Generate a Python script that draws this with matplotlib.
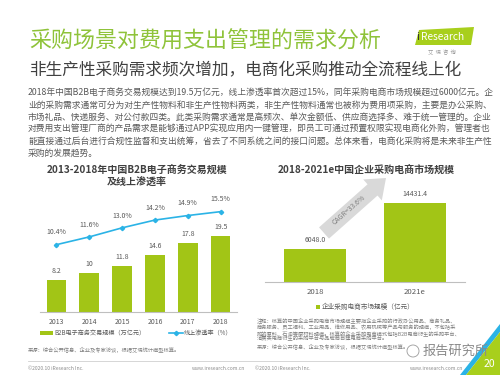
import matplotlib.pyplot as plt
from matplotlib.patches import Polygon, FancyArrow, Rectangle
from matplotlib.lines import Line2D

plt.rcParams['font.family'] = ['Noto Sans CJK SC', 'DejaVu Sans']

# data
years = ['2013', '2014', '2015', '2016', '2017', '2018']
b2b_scale = [8.2, 10, 11.8, 14.6, 17.8, 19.5]          # 万亿元
online_rate = [10.4, 11.6, 13.0, 14.2, 14.9, 15.5]     # %
mkt_years = ['2018', '2021e']
mkt_scale = [6048.0, 14431.4]                          # 亿元
cagr_label = 'CAGR=33.6%'

title = '采购场景对费用支出管理的需求分析'
subtitle = '非生产性采购需求频次增加，电商化采购推动全流程线上化'
para = [
    '2018年中国B2B电子商务交易规模达到19.5万亿元，线上渗透率首次超过15%，同年采购电商市场规模超过6000亿元。企',
    '业的采购需求通常可分为对生产性物料和非生产性物料两类，非生产性物料通常也被称为费用项采购，主要是办公采购、',
    '市场礼品、快递服务、对公付款四类。此类采购需求通常是高频次、单次金额低、供应商选择多、难于统一管理的。企业',
    '对费用支出管理厂商的产品需求是能够通过APP实现应用内一键管理，即员工可通过预置权限实现电商化外购，管理者也',
    '能直接通过后台进行合规性监督和支出统筹，省去了不同系统之间的接口问题。总体来看，电商化采购将是未来非生产性',
    '采购的发展趋势。',
]
notes = [
    '注释：核算的中国企业采购电商市场规模主要指企业采购的行政办公用品、商务礼品、',
    '商务服务、员工福利、工业用品、维修用品、农用机械等产品与服务的规模，不包括采',
    '购的原料、石油等原材料规模。核算的企业采购电商模式包括B2B电商衍生的采购平台、',
    '消费类电商衍生的采购平台与品牌商自建电商采购平台。',
    '来源：综合公开信息、企业及专家访谈，根据艾瑞统计模型核算。',
]
source = '来源：综合公开信息、企业及专家访谈，根据艾瑞统计模型核算。'

GREEN = '#a2c516'
TGREEN = '#8fc33a'
BLUE = '#2bb3e6'
GRAY = '#595959'

fig = plt.figure(figsize=(5, 3.75), dpi=100)

# background axes in pixel coordinates for the slide decoration
bg = fig.add_axes([0, 0, 1, 1], zorder=0)
bg.set_xlim(0, 500)
bg.set_ylim(375, 0)
bg.axis('off')

bg.text(29, 42, title, color=TGREEN, fontsize=15.8, va='center', ha='left')
bg.text(29, 71, subtitle, color='#404040', fontsize=12, va='center', ha='left')
for i, line in enumerate(para):
    bg.text(28, 93 + i * 12, line, color=GRAY, fontsize=6.3, va='center', ha='left')

# logo
bg.add_patch(Polygon([(419, 30), (474, 27), (471, 45), (415, 45)], closed=True,
                     color='#a8cf1c', lw=0))
bg.text(416.5, 37, 'i', color='#333333', fontsize=8, va='center', ha='left')
bg.text(420.5, 37, 'Research', color='white', fontsize=7.3, va='center', ha='left')
bg.text(442, 52, '艾  瑞  咨  询', color='#999999', fontsize=3.8, va='center', ha='center')

# chart titles
bg.text(137, 170, '2013-2018年中国B2B电子商务交易规模', fontsize=7.2, fontweight='bold',
        color='#404040', ha='center', va='center')
bg.text(137, 183, '及线上渗透率', fontsize=7.2, fontweight='bold',
        color='#404040', ha='center', va='center')
bg.text(366, 170, '2018-2021e中国企业采购电商市场规模', fontsize=7.2, fontweight='bold',
        color='#404040', ha='center', va='center')

# left legend
bg.add_patch(Rectangle((40, 331), 13, 4, color=GREEN, lw=0))
bg.text(54, 333, 'B2B电子商务交易规模（万亿元）', fontsize=4.4, color=GRAY, va='center')
bg.add_line(Line2D([169, 183], [333, 333], color=BLUE, lw=1.2))
bg.plot([176], [333], marker='D', ms=2.2, color=BLUE)
bg.text(183.5, 333, '线上渗透率（%）', fontsize=4.4, color=GRAY, va='center')
bg.text(28, 350, source, fontsize=3.8, color='#7f7f7f', va='center')

# right legend + notes
bg.add_patch(Rectangle((316, 305), 4, 4, color=GREEN, lw=0))
bg.text(322, 307, '企业采购电商市场规模（亿元）', fontsize=4.8, color=GRAY, va='center')
for yy, line in zip([320, 327, 333, 339, 346], notes):
    bg.text(257, yy, line, fontsize=3.75, color='#7f7f7f', va='center')

# footer
bg.add_line(Line2D([28, 470], [361, 361], color='#d0d0d0', lw=0.6))
bg.text(28, 368, '©2020.10 iResearch Inc.', fontsize=3.6, color='#8c8c8c', va='center')
bg.text(245, 368, 'www.iresearch.com.cn', fontsize=3.6, color='#8c8c8c', va='center', ha='right')
bg.text(255, 368, '©2020.10 iResearch Inc.', fontsize=3.6, color='#8c8c8c', va='center')
bg.text(463, 368, 'www.iresearch.com.cn', fontsize=3.6, color='#8c8c8c', va='center', ha='right')

# corner decoration
bg.add_patch(Polygon([(460, 375), (500, 324), (500, 332), (466, 375)], closed=True,
                     color=BLUE, lw=0))
bg.add_patch(Polygon([(466, 375), (500, 375), (500, 332)], closed=True, color='#a8cf1c', lw=0))
bg.text(489, 364, '20', color='white', fontsize=7.5, ha='center', va='center')

# watermark
bg.text(456, 351, '报告研究所', fontsize=9.5, color='#8a8a8a', ha='center', va='center',
        fontweight='light')
bg.add_patch(plt.Circle((413, 351), 6, fill=False, ec='#9a9a9a', lw=0.6))

# CAGR arrow
bg.add_patch(FancyArrow(324, 233, 62, -55, width=15, head_width=28, head_length=18,
                        length_includes_head=True, color='#d9d9d9', lw=0))
bg.text(349, 210, cagr_label, rotation=41, fontsize=5, color='#808080',
        ha='center', va='center')

# left chart: bars + line
ax1 = fig.add_axes([0.08, 1 - 312 / 375, 0.394, 112 / 375], zorder=2)
ax1.patch.set_alpha(0)
xs = range(len(years))
ax1.bar(xs, b2b_scale, width=0.6, color=GREEN)
for x, v in zip(xs, b2b_scale):
    ax1.annotate(f'{v:g}', (x, v), xytext=(0, 3.5), textcoords='offset points',
                 ha='center', va='bottom', fontsize=5, color=GRAY)
ax1.set_xlim(-0.5, len(years) - 0.5)
ax1.set_ylim(0, 28.7)
ax1.set_xticks(list(xs))
ax1.set_xticklabels(years, fontsize=5, color=GRAY)
ax1.tick_params(axis='x', length=0, pad=4)
ax1.set_yticks([])
for s in ['top', 'right', 'left']:
    ax1.spines[s].set_visible(False)
ax1.spines['bottom'].set_color('#bfbfbf')

ax2 = ax1.twinx()
ax2.plot(list(xs), online_rate, color=BLUE, lw=1.2, marker='D', ms=2.2)
for x, v in zip(xs, online_rate):
    ax2.annotate(f'{v:.1f}%', (x, v), xytext=(0, 6), textcoords='offset points',
                 ha='center', va='bottom', fontsize=5, color=GRAY)
ax2.set_ylim(0, 17.3)
ax2.set_yticks([])
for s in ax2.spines.values():
    s.set_visible(False)

# right chart
ax3 = fig.add_axes([0.53, 1 - 282 / 375, 0.4, 92 / 375], zorder=2)
ax3.patch.set_alpha(0)
xr = range(len(mkt_years))
ax3.bar(xr, mkt_scale, width=0.62, color=GREEN)
for x, v in zip(xr, mkt_scale):
    ax3.annotate(f'{v:.1f}', (x, v), xytext=(0, 3.5), textcoords='offset points',
                 ha='center', va='bottom', fontsize=5, color=GRAY)
ax3.set_xlim(-0.5, 1.5)
ax3.set_ylim(0, 16806)
ax3.set_xticks(list(xr))
ax3.set_xticklabels(mkt_years, fontsize=5.6, color=GRAY)
ax3.tick_params(axis='x', length=0, pad=4)
ax3.set_yticks([])
for s in ['top', 'right', 'left']:
    ax3.spines[s].set_visible(False)
ax3.spines['bottom'].set_color('#bfbfbf')

fig.savefig('out.png', dpi=100)
